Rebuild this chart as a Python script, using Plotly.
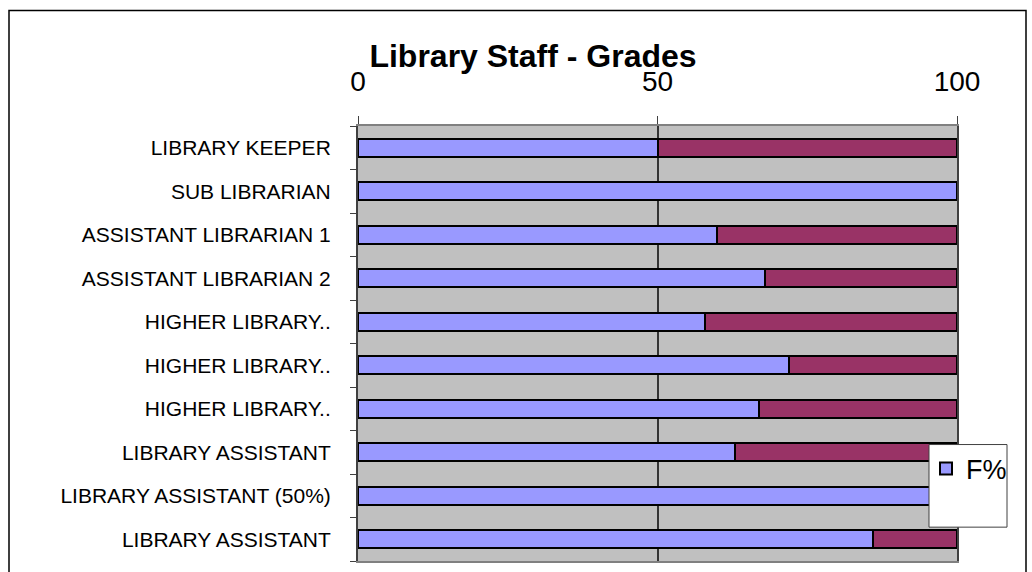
import plotly.graph_objects as go

categories = [
    "LIBRARY KEEPER",
    "SUB LIBRARIAN",
    "ASSISTANT LIBRARIAN 1",
    "ASSISTANT LIBRARIAN 2",
    "HIGHER LIBRARY..",
    "HIGHER LIBRARY..",
    "HIGHER LIBRARY..",
    "LIBRARY ASSISTANT",
    "LIBRARY ASSISTANT (50%)",
    "LIBRARY ASSISTANT",
]
f_pct = [50, 100, 60, 68, 58, 72, 67, 63, 100, 86]
m_pct = [50, 0, 40, 32, 42, 28, 33, 37, 0, 14]
x_ticks = [0, 50, 100]

positions = list(range(len(categories)))

W, H = 1032, 572
L, R, T, B = 358, 957, 126, 563


def px(xp):
    return (xp - L) / (R - L)


def py(yp):
    return (B - yp) / (B - T)


FONT = "Liberation Sans, Arial, sans-serif"

fig = go.Figure()
fig.add_trace(go.Bar(
    y=positions, x=f_pct, orientation="h", name="F%",
    marker=dict(color="#9999FF", line=dict(color="black", width=2)),
    width=0.41, showlegend=True,
))
fig.add_trace(go.Bar(
    y=positions, x=m_pct, orientation="h", name="M%",
    marker=dict(color="#993366", line=dict(color="black", width=2)),
    width=0.41, showlegend=False,
))

fig.update_layout(
    width=W, height=H,
    margin=dict(l=L, r=W - R, t=T, b=H - B, pad=0),
    barmode="stack",
    paper_bgcolor="white",
    plot_bgcolor="#C0C0C0",
    font=dict(family=FONT, color="black"),
    title=dict(
        text="<b>Library Staff - Grades</b>",
        x=533 / W, xanchor="center", xref="container",
        y=1 - 56 / H, yanchor="middle", yref="container",
        font=dict(family=FONT, size=32, color="black"),
    ),
    xaxis=dict(
        side="top", range=[0, 100], tickvals=x_ticks,
        ticks="outside", ticklen=8, tickcolor="#404040", tickwidth=1,
        tickfont=dict(size=28, family=FONT),
        ticklabelstandoff=14,
        showgrid=True, gridcolor="#333333", gridwidth=1.5,
        showline=True, linecolor="#808080", linewidth=2, mirror=True,
        zeroline=False, fixedrange=True,
    ),
    yaxis=dict(
        range=[len(categories) - 0.5, -0.5],
        tickvals=positions, ticktext=categories, ticks="",
        tickfont=dict(size=21, family=FONT),
        ticklabelstandoff=21,
        minor=dict(tick0=0.5, dtick=1, ticks="outside", ticklen=6,
                   tickcolor="#404040", tickwidth=1, showgrid=False),
        showgrid=False,
        showline=True, linecolor="#404040", linewidth=2, mirror=True,
        zeroline=False, fixedrange=True,
    ),
    legend=dict(
        x=px(926), y=py(446), xanchor="left", yanchor="top",
        bgcolor="rgba(0,0,0,0)", borderwidth=0,
        font=dict(size=27, family=FONT),
    ),
    shapes=[
        dict(type="rect", xref="paper", yref="paper",
             x0=px(9), x1=px(1026), y0=py(600), y1=py(10),
             line=dict(color="black", width=1.5), fillcolor="rgba(0,0,0,0)",
             layer="above"),
        dict(type="rect", xref="paper", yref="paper",
             x0=px(929), x1=px(1007), y0=py(529), y1=py(446),
             line=dict(color="#404040", width=1), fillcolor="white",
             layer="above"),
    ],
)

fig.write_html("out.html", config={"displayModeBar": False},
               post_script="document.body.style.margin='0px';")
